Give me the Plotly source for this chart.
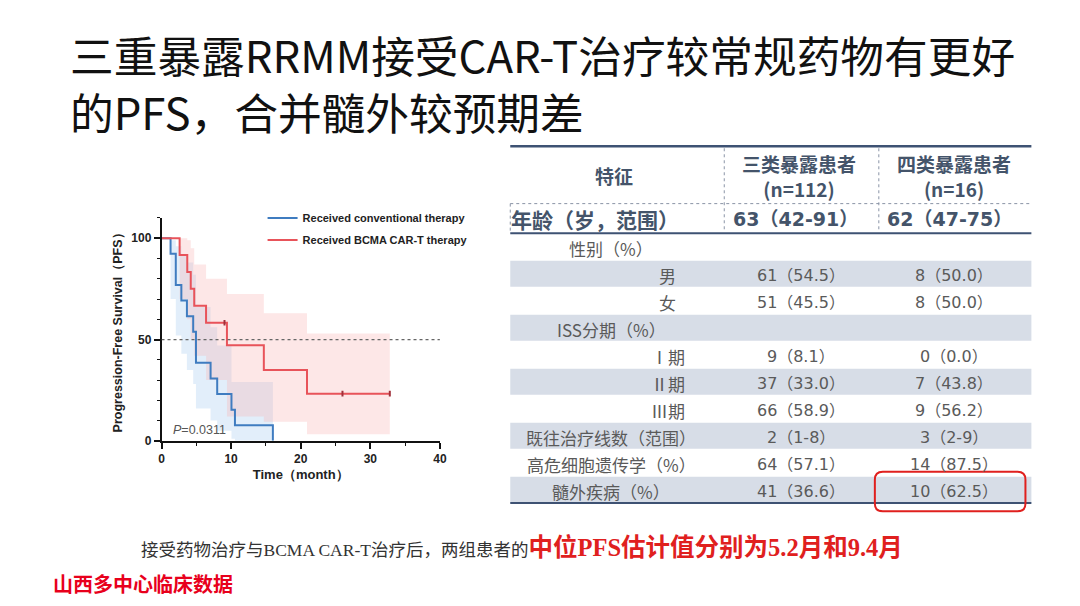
import plotly.graph_objects as go

W, H = 1080, 606

def X(px):
    return px / W

def Y(py):
    return 1 - py / H

# ---------------- data ----------------
title_lines = ["三重暴露RRMM接受CAR-T治疗较常规药物有更好", "的PFS，合并髓外较预期差"]

# Kaplan-Meier: conventional therapy
conv_t = [0, 1.3, 2.05, 2.85, 3.65, 4.55, 4.95, 7.05, 8.0, 10.05, 10.55, 16.0]
conv_s = [100, 92.3, 76.9, 69.2, 61.5, 53.8, 38.5, 30.8, 23.1, 15.4, 7.7, 0]
conv_hi = [100, 99, 96, 92, 88, 82, 66, 56, 47, 29, 29, 29]
conv_lo = [100, 70, 52, 43, 35, 28, 16, 10, 5, 1, 0, 0]

# Kaplan-Meier: BCMA CAR-T therapy
cart_t = [0, 2.6, 3.7, 4.2, 4.7, 6.4, 9.4, 14.7, 20.9, 32.8]
cart_s = [100, 91.7, 83.3, 75.0, 66.7, 58.3, 47.2, 35.0, 23.3, 23.3]
cart_hi = [100, 100, 99, 95, 87, 80, 72.5, 63, 53, 53]
cart_lo = [100, 70, 60, 50, 42, 30, 12, 9.4, 3.3, 3.3]
cart_cens_t = [9.05, 26.0, 32.8]
cart_cens_s = [58.3, 23.3, 23.3]

series_names = ["Received conventional therapy", "Received BCMA CAR-T therapy"]
p_value = "0.0311"

# Table
head_cols = ["特征", "三类暴露患者<br>(n=112)", "四类暴露患者<br>(n=16)"]
age_row = ["年龄（岁，范围）", "63（42-91）", "62（47-75）"]
row_labels = ["性别（%）", "男", "女", "ISS分期（%）", "Ⅰ期", "Ⅱ期", "Ⅲ期",
              "既往治疗线数（范围）", "高危细胞遗传学（%）", "髓外疾病（%）"]
col_three = ["", "61（54.5）", "51（45.5）", "", "9（8.1）", "37（33.0）", "66（58.9）",
             "2（1-8）", "64（57.1）", "41（36.6）"]
col_four = ["", "8（50.0）", "8（50.0）", "", "0（0.0）", "7（43.8）", "9（56.2）",
            "3（2-9）", "14（87.5）", "10（62.5）"]
highlight_row = 9

footer_black = "接受药物治疗与BCMA CAR-T治疗后，两组患者的"
footer_red = "中位PFS估计值分别为5.2月和9.4月"
source_note = "山西多中心临床数据"

# ---------------- style ----------------
BLUE = "#3f7cc0"
RED = "#e8535a"
HEAD_C = "#44546a"
BODY_C = "#5a5a5a"
SHADE = "#d7dde7"
CJK = "Noto Sans CJK SC"
ARIAL = "Liberation Sans"
NUMF = "DejaVu Sans, Noto Sans CJK SC"

# label layout per row: (anchor, x px)
label_pos = [("center", 614), ("right", 681), ("right", 681), ("center", 614),
             ("right", 690), ("right", 690), ("right", 690),
             ("center", 614), ("center", 614), ("center", 614)]

fig = go.Figure()

# ---- KM bands ----
def band(t, lo, hi, color):
    fig.add_trace(go.Scatter(x=t, y=lo, mode="lines", line=dict(width=0, shape="hv"),
                             showlegend=False, hoverinfo="skip"))
    fig.add_trace(go.Scatter(x=t, y=hi, mode="lines", line=dict(width=0, shape="hv"),
                             fill="tonexty", fillcolor=color, showlegend=False, hoverinfo="skip"))

band(conv_t, conv_lo, conv_hi, "rgba(170,205,240,0.34)")
band(cart_t, cart_lo, cart_hi, "rgba(250,175,175,0.30)")

fig.add_trace(go.Scatter(x=conv_t, y=conv_s, mode="lines", name=series_names[0],
                         line=dict(color=BLUE, width=2, shape="hv"), legendgroup="a"))
fig.add_trace(go.Scatter(x=cart_t, y=cart_s, mode="lines", name=series_names[1],
                         line=dict(color=RED, width=2, shape="hv"), legendgroup="b"))
fig.add_trace(go.Scatter(x=cart_cens_t, y=cart_cens_s, mode="markers", showlegend=False,
                         marker=dict(symbol="line-ns", size=4, line=dict(color="#a0303a", width=2))))

axis_common = dict(showline=True, linecolor="#111", linewidth=1.5, ticks="outside",
                   ticklen=6, tickwidth=1.5, tickcolor="#111", showgrid=False, zeroline=False,
                   tickfont=dict(family=ARIAL, size=12, color="#222", weight="bold"))

fig.update_layout(
    xaxis=dict(domain=[X(160), X(441)], range=[0, 40], dtick=10, tick0=0,
               minor=dict(dtick=5, ticks="outside", ticklen=3, tickwidth=1.2, tickcolor="#111"),
               title=dict(text="Time（month）", standoff=5,
                          font=dict(family=ARIAL, size=13, color="#222", weight="bold")),
               anchor="y", **axis_common),
    yaxis=dict(domain=[Y(446), Y(220.5)], range=[0, 110], dtick=50, tick0=0,
               minor=dict(dtick=10, ticks="outside", ticklen=3, tickwidth=1.2, tickcolor="#111"),
               title=dict(text="Progression-Free Survival（PFS）", standoff=6,
                          font=dict(family=ARIAL, size=12.5, color="#222", weight="bold")),
               anchor="x", **axis_common),
)

shapes = []
# 50% reference line
shapes.append(dict(type="line", xref="x", yref="y", x0=0, x1=40, y0=50, y1=50,
                   line=dict(color="#666", width=1.2, dash="dot")))

ann = []
ann.append(dict(x=1.4, y=5.5, xref="x", yref="y", xanchor="left", yanchor="middle",
                text="<i>P</i>=" + p_value, showarrow=False,
                font=dict(family=ARIAL, size=12.5, color="#555")))

# ---- title ----
ann.append(dict(x=X(66), y=Y(83), xref="paper", yref="paper", xanchor="left",
                yanchor="middle", align="left", text="<br>".join(title_lines), showarrow=False,
                font=dict(family=CJK, size=43.7, color="#111")))

# ---- table ----
TL, TR = 512, 1038
top_y, head_bot, age_bot = 148, 206, 236
row_h = 27.3
n = len(row_labels)
row_c = [age_bot + row_h * (i + 0.5) for i in range(n)]
col_x = [None, 805, 960]
head_x = [617, 803, 960]
dy = 1.5

for i in range(n):
    if i % 2 == 1:
        shapes.append(dict(type="rect", xref="paper", yref="paper", x0=X(TL), x1=X(TR),
                           y0=Y(row_c[i] - row_h / 2 + 0.5), y1=Y(row_c[i] + row_h / 2 - 0.5),
                           fillcolor=SHADE, line=dict(width=0), layer="below"))

for yy, w in [(top_y, 2.5), (age_bot, 2), (age_bot + row_h * n, 2)]:
    shapes.append(dict(type="line", xref="paper", yref="paper", x0=X(TL), x1=X(TR),
                       y0=Y(yy), y1=Y(yy), line=dict(color="#3e5273", width=w)))
shapes.append(dict(type="line", xref="paper", yref="paper", x0=X(TL), x1=X(TR),
                   y0=Y(head_bot), y1=Y(head_bot), line=dict(color="#8a94a6", width=1, dash="dot")))
for vx in [728, 884]:
    shapes.append(dict(type="line", xref="paper", yref="paper", x0=X(vx), x1=X(vx),
                       y0=Y(top_y + 2), y1=Y(age_bot - 1), line=dict(color="#8a94a6", width=1, dash="dot")))
shapes.append(dict(type="line", xref="paper", yref="paper", x0=X(TL), x1=X(TL),
                   y0=Y(head_bot), y1=Y(age_bot - 1), line=dict(color="#8a94a6", width=1, dash="dot")))

for j, txt in enumerate(head_cols):
    ann.append(dict(x=X(head_x[j]), y=Y((top_y + head_bot) / 2 + 1), xref="paper", yref="paper",
                    text=txt, showarrow=False, xanchor="center", yanchor="middle",
                    font=dict(family=CJK, size=19, color=HEAD_C, weight="bold")))
age_x = [598, 800, 955]
for j, txt in enumerate(age_row):
    ann.append(dict(x=X(age_x[j]), y=Y((head_bot + age_bot) / 2 + 0.5), xref="paper", yref="paper",
                    text=txt, showarrow=False, xanchor="center", yanchor="middle",
                    font=dict(family=CJK if j == 0 else "DejaVu Sans, " + CJK,
                              size=21 if j == 0 else 19, color=HEAD_C, weight="bold")))

for i in range(n):
    anchor, lx = label_pos[i]
    ann.append(dict(x=X(lx), y=Y(row_c[i] + dy), xref="paper", yref="paper", text=row_labels[i],
                    showarrow=False, xanchor=anchor, yanchor="middle",
                    font=dict(family=CJK, size=17, color=BODY_C)))
    for j, col in ((1, col_three), (2, col_four)):
        if col[i]:
            ann.append(dict(x=X(col_x[j]), y=Y(row_c[i] + dy), xref="paper", yref="paper", text=col[i],
                            showarrow=False, xanchor="center", yanchor="middle",
                            font=dict(family=NUMF, size=16, color=BODY_C)))

# highlight box around last cell
bx0, bx1 = 880, 1032
by0, by1 = row_c[highlight_row] - 18, row_c[highlight_row] + 22
r = 8
path = (f"M {X(bx0 + r)},{Y(by0)} L {X(bx1 - r)},{Y(by0)} Q {X(bx1)},{Y(by0)} {X(bx1)},{Y(by0 + r)} "
        f"L {X(bx1)},{Y(by1 - r)} Q {X(bx1)},{Y(by1)} {X(bx1 - r)},{Y(by1)} "
        f"L {X(bx0 + r)},{Y(by1)} Q {X(bx0)},{Y(by1)} {X(bx0)},{Y(by1 - r)} "
        f"L {X(bx0)},{Y(by0 + r)} Q {X(bx0)},{Y(by0)} {X(bx0 + r)},{Y(by0)} Z")
shapes.append(dict(type="path", xref="paper", yref="paper", path=path,
                   line=dict(color="#e0201e", width=2)))

# ---- footer ----
ann.append(dict(x=X(137), y=Y(553), xref="paper", yref="paper", xanchor="left", yanchor="middle",
                showarrow=False,
                text=(f"<span style='font-size:17.5px;color:#333'>{footer_black}</span>"
                      f"<span style='font-size:24.5px;color:#e0201e'><b>{footer_red}</b></span>"),
                font=dict(family="Liberation Serif, " + CJK, size=17.5, color="#333")))
ann.append(dict(x=X(48), y=Y(590), xref="paper", yref="paper", xanchor="left", yanchor="middle",
                showarrow=False, text=source_note,
                font=dict(family=CJK, size=20, color="#e8001c", weight="bold")))

fig.update_layout(
    width=W, height=H, margin=dict(l=0, r=0, t=0, b=0),
    paper_bgcolor="white", plot_bgcolor="white",
    shapes=shapes, annotations=ann,
    legend=dict(x=X(262), y=Y(206), xanchor="left", yanchor="top", bgcolor="rgba(0,0,0,0)",
                font=dict(family=ARIAL, size=11, color="#222", weight="bold"),
                tracegroupgap=3, itemwidth=30),
    showlegend=True,
)

fig.write_html("out.html", config={"displayModeBar": False},
               post_script=("document.documentElement.style.margin='0px';"
                            "document.body.style.margin='0px';"
                            "document.documentElement.style.overflow='hidden';"
                            "document.body.style.overflow='hidden';"))
